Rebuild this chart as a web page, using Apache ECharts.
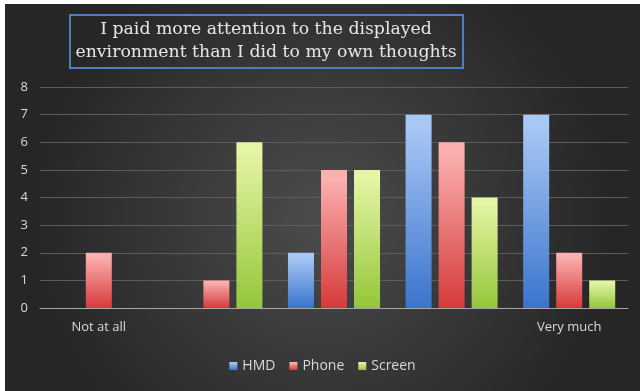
<!DOCTYPE html>
<html><head><meta charset="utf-8">
<script src="https://cdn.jsdelivr.net/npm/echarts@6/dist/echarts.min.js"></script>
<style>html,body{margin:0;padding:0;background:#fff;}#c{position:absolute;left:5px;top:4px;width:635px;height:387px;}</style>
</head><body><div id="c"></div>
<script>
const categories = ['Not at all', '', '', '', 'Very much'];
const hmd = [0, 0, 2, 7, 7];
const phone = [2, 1, 5, 6, 2];
const screen = [0, 6, 5, 4, 1];
const yTicks = [0, 1, 2, 3, 4, 5, 6, 7, 8];
const titleText = 'I paid more attention to the displayed\nenvironment than I did to my own thoughts';

function grad(top, bottom) {
  return new echarts.graphic.LinearGradient(0, 0, 0, 1, [
    {offset: 0, color: top}, {offset: 0.06, color: top}, {offset: 1, color: bottom}
  ]);
}
const chart = echarts.init(document.getElementById('c'));
chart.setOption({
  backgroundColor: {type: 'radial', x: 0.5, y: 0.55, r: 0.75, colorStops: [
    {offset: 0, color: '#4c4c4c'}, {offset: 1, color: '#262626'}]},
  graphic: [
    {type: 'rect', shape: {x: 65, y: 11, width: 393, height: 53},
      style: {fill: 'rgba(0,0,0,0)', stroke: '#4f7fc0', lineWidth: 2}},
    {type: 'text', x: 261, y: 37.5,
      style: {text: titleText, fill: '#e6e6e6', font: '17.3px "DejaVu Serif"', align: 'center', verticalAlign: 'middle', lineHeight: 23}}
  ],
  legend: {
    data: ['HMD', 'Phone', 'Screen'], left: 'center', top: 350,
    itemWidth: 8, itemHeight: 8, itemGap: 14, icon: 'rect',
    textStyle: {color: '#d9d9d9', fontSize: 14, fontFamily: 'Open Sans'}
  },
  grid: {left: 35, right: 12, top: 83, bottom: 83},
  xAxis: {
    type: 'category', data: categories,
    axisLine: {lineStyle: {color: '#a6a6a6', width: 1}},
    axisTick: {show: false},
    axisLabel: {color: '#d9d9d9', fontSize: 13, fontFamily: 'Open Sans', margin: 13, interval: 0}
  },
  yAxis: {
    type: 'value', min: 0, max: 8, interval: 1,
    axisLine: {show: false}, axisTick: {show: false},
    axisLabel: {color: '#d9d9d9', fontSize: 13, fontFamily: 'Open Sans', margin: 12,
      formatter: v => String(yTicks[v])},
    splitLine: {lineStyle: {color: '#5c5c5c', width: 1}}
  },
  series: [
    {name: 'HMD', type: 'bar', data: hmd, barWidth: 26, barGap: '27%',
      itemStyle: {color: grad('#a8c8f5', '#3a74cc')}},
    {name: 'Phone', type: 'bar', data: phone, barWidth: 26,
      itemStyle: {color: grad('#fbb0b0', '#d63a3a')}},
    {name: 'Screen', type: 'bar', data: screen, barWidth: 26,
      itemStyle: {color: grad('#e4f5a4', '#94c63a')}}
  ]
});
</script></body></html>
